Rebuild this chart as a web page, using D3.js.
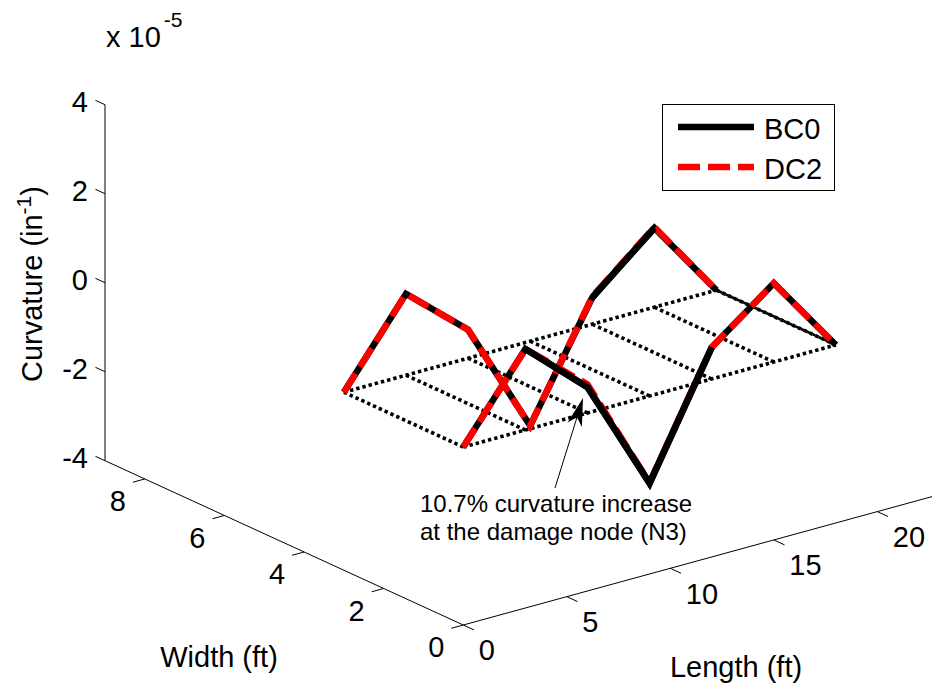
<!DOCTYPE html>
<html>
<head>
<meta charset="utf-8">
<script src="https://cdn.jsdelivr.net/npm/d3@7"></script>
<style>
  body { margin: 0; background: #fff; }
  text { font-family: "Liberation Sans", Arial, Helvetica, sans-serif; fill: #000; }
</style>
</head>
<body>
<svg id="chart" width="932" height="690"></svg>
<script>
// Node stations along the span (ft) and girder lines across the deck (ft)
const lengthNodes = [0, 3, 6, 9, 12, 15, 18];
const girderWidths = [3, 0];

// Curvature at each node (x 1e-5 in^-1), one array per girder line
const bc0Girder1 = [0, 1.83, 0.64, -1.90, 0.60, 1.78, 0];
const dc2Girder1 = [0, 1.83, 0.64, -1.90, 0.62, 1.80, 0];
const bc0Girder2 = [0, 1.82, 0.58, -1.96, 0.71, 1.77, 0];
const dc2Girder2 = [0, 1.82, 0.642, -1.95, 0.71, 1.77, 0];   // N3: 0.58 x 1.107

// Axis ticks
const lengthTicks = [0, 5, 10, 15, 20];
const widthTicks = [0, 2, 4, 6, 8];
const curvTicks = [-4, -2, 0, 2, 4];

// Axis limits
const lengthDomain = [0, 25];
const widthDomain = [0, 9];
const curvDomain = [-4, 4];

const svg = d3.select("#chart");

// Oblique 3-D view built from one linear scale per screen component
const origin = [463.3, 625];
const lenX = d3.scaleLinear().domain([0, 20]).range([0, 414]);
const lenY = d3.scaleLinear().domain([0, 20]).range([0, -113.4]);
const widX = d3.scaleLinear().domain([0, 9]).range([0, -358.3]);
const widY = d3.scaleLinear().domain([0, 9]).range([0, -164.3]);
const curvY = d3.scaleLinear().domain(curvDomain).range([0, -356]);

function proj(L, W, Z) {
  return [origin[0] + lenX(L) + widX(W), origin[1] + lenY(L) + widY(W) + curvY(Z)];
}

const line = d3.line().x(d => d[0]).y(d => d[1]);

// ---- axes (box off: three edges only) ----
const axes = svg.append("g").attr("stroke", "#000").attr("stroke-width", 1).attr("fill", "none");
const zMin = curvDomain[0];
axes.append("path").attr("d", line([proj(0, 0, zMin), proj(lengthDomain[1], 0, zMin)]));
axes.append("path").attr("d", line([proj(0, 0, zMin), proj(0, widthDomain[1], zMin)]));
axes.append("path").attr("d", line([proj(0, widthDomain[1], zMin), proj(0, widthDomain[1], curvDomain[1])]));

// tick marks
lengthTicks.forEach(t => {
  const p = proj(t, 0, zMin), q = proj(t, -0.27, zMin);
  axes.append("path").attr("d", line([p, q]));
});
widthTicks.forEach(t => {
  const p = proj(0, t, zMin), q = proj(-0.58, t, zMin);
  axes.append("path").attr("d", line([p, q]));
});
curvTicks.forEach(t => {
  const p = proj(0, widthDomain[1], t), q = proj(0, widthDomain[1] + 0.24, t);
  axes.append("path").attr("d", line([p, q]));
});

// tick labels
const fs = 29;
lengthTicks.forEach(t => {
  const p = proj(t, 0, zMin);
  svg.append("text").attr("x", p[0] + 15.5).attr("y", p[1] + 25).attr("dy", "0.36em")
    .attr("font-size", fs).attr("text-anchor", "start").text(t);
});
widthTicks.forEach(t => {
  const p = proj(0, t, zMin);
  svg.append("text").attr("x", p[0] - 19).attr("y", p[1] + 22).attr("dy", "0.36em")
    .attr("font-size", fs).attr("text-anchor", "end").text(t);
});
curvTicks.forEach(t => {
  const p = proj(0, widthDomain[1], t);
  svg.append("text").attr("x", 88).attr("y", p[1] - 3.5).attr("dy", "0.36em")
    .attr("font-size", fs).attr("text-anchor", "end").text(t);
});

// exponent multiplier
const mult = svg.append("text").attr("x", 106).attr("y", 47).attr("font-size", fs);
mult.append("tspan").text("x 10");
mult.append("tspan").attr("dy", -20).attr("dx", 3).attr("font-size", 21).text("-5");

// axis titles
svg.append("text").attr("x", 219).attr("y", 666.5).attr("font-size", fs)
  .attr("text-anchor", "middle").text("Width (ft)");
svg.append("text").attr("x", 736).attr("y", 677).attr("font-size", fs)
  .attr("text-anchor", "middle").text("Length (ft)");
const zt = svg.append("text").attr("transform", "translate(42,284) rotate(-90)")
  .attr("font-size", fs).attr("text-anchor", "middle");
zt.append("tspan").text("Curvature (in");
zt.append("tspan").attr("dy", -11).attr("font-size", 21).text("-1");
zt.append("tspan").attr("dy", 11).text(")");

// ---- deck grid at zero curvature ----
const grid = svg.append("g").attr("fill", "none").attr("stroke", "#000")
  .attr("stroke-width", 3.6).attr("stroke-dasharray", "3.4,3.0");
const wLo = d3.min(girderWidths), wHi = d3.max(girderWidths);
const lLo = d3.min(lengthNodes), lHi = d3.max(lengthNodes);
girderWidths.forEach(w => {
  grid.append("path").attr("d", line([proj(lLo, w, 0), proj(lHi, w, 0)]));
});
lengthNodes.forEach(L => {
  grid.append("path").attr("d", line([proj(L, wHi, 0), proj(L, wLo, 0)]));
});
// the end support line is traced twice by the mesh
grid.append("path").attr("d", line([proj(lHi, wHi, 0), proj(lHi, wLo, 0)]))
  .attr("stroke-width", 2.6).attr("stroke-dashoffset", 3.2);

// ---- curvature lines ----
const cases = [
  { w: girderWidths[0], bc0: bc0Girder1, dc2: dc2Girder1, bc0Front: [[4, 5]] },
  { w: girderWidths[1], bc0: bc0Girder2, dc2: dc2Girder2, bc0Front: [[1, 4]] }
];
const lw = 6.5;
function pts(vals, w) { return lengthNodes.map((L, i) => proj(L, w, vals[i])); }

cases.forEach(c => {
  svg.append("path").attr("d", line(pts(c.bc0, c.w))).attr("fill", "none")
    .attr("stroke", "#000").attr("stroke-width", lw).attr("stroke-linejoin", "miter");
  svg.append("path").attr("d", line(pts(c.dc2, c.w))).attr("fill", "none")
    .attr("stroke", "#ff0000").attr("stroke-width", lw).attr("stroke-dasharray", "22,8")
    .attr("stroke-linejoin", "miter");
});
// spans where the baseline trace renders in front
cases.forEach(c => {
  c.bc0Front.forEach(([a, b]) => {
    const p = pts(c.bc0, c.w).slice(a, b + 1);
    svg.append("path").attr("d", line(p)).attr("fill", "none")
      .attr("stroke", "#000").attr("stroke-width", lw).attr("stroke-linejoin", "miter");
  });
});

// ---- annotation ----
const tail = [555, 488], tip = [583, 398];
const dx = tip[0] - tail[0], dy = tip[1] - tail[1], len = Math.hypot(dx, dy);
const ux = dx / len, uy = dy / len, nx = -uy, ny = ux;
const headLen = 28, headW = 7.5;
const back = [tip[0] - ux * headLen, tip[1] - uy * headLen];
const notch = [tip[0] - ux * headLen * 0.72, tip[1] - uy * headLen * 0.72];
svg.append("path").attr("d", line([tail, notch])).attr("stroke", "#000").attr("stroke-width", 1);
svg.append("path").attr("d", line([tip, [back[0] + nx * headW, back[1] + ny * headW], notch,
  [back[0] - nx * headW, back[1] - ny * headW]]) + "Z").attr("fill", "#000");
const note = svg.append("text").attr("font-size", 24);
note.append("tspan").attr("x", 420).attr("y", 511.7).text("10.7% curvature increase");
note.append("tspan").attr("x", 420).attr("y", 540).text("at the damage node (N3)");

// ---- legend ----
const lg = svg.append("g");
lg.append("rect").attr("x", 662.5).attr("y", 104.5).attr("width", 172).attr("height", 86)
  .attr("fill", "#fff").attr("stroke", "#000").attr("stroke-width", 1);
const legendItems = [
  { name: "BC0", color: "#000", dash: null, y: 127 },
  { name: "DC2", color: "#ff0000", dash: "22,8", y: 167 }
];
legendItems.forEach(d => {
  lg.append("path").attr("d", line([[678, d.y], [754, d.y]]))
    .attr("stroke", d.color).attr("stroke-width", lw).attr("stroke-dasharray", d.dash);
  lg.append("text").attr("x", 764).attr("y", d.y + 12).attr("font-size", fs).text(d.name);
});
</script>
</body>
</html>
